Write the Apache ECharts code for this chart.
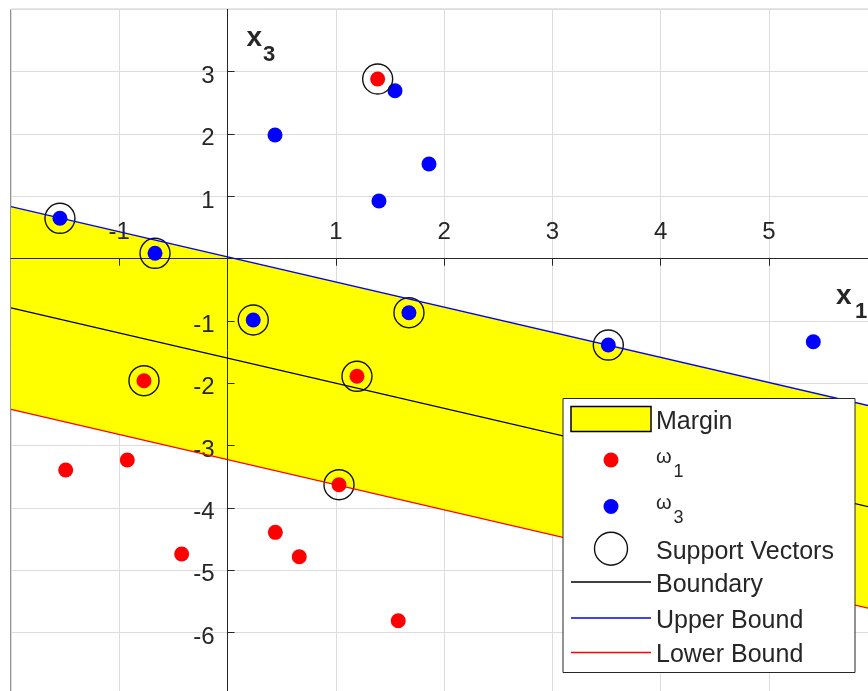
<!DOCTYPE html>
<html>
<head>
<meta charset="utf-8">
<script src="https://cdn.jsdelivr.net/npm/echarts@6/dist/echarts.min.js"></script>
<style>
  html, body { margin: 0; padding: 0; background: #fff; }
  #chart { width: 868px; height: 691px; }
</style>
</head>
<body>
<div id="chart"></div>
<script>
// Class ω1 samples (x1, x3)
const w1X = [1.386, -0.772, 1.195, 1.029, -1.495, -0.926, -0.424, 0.441, 0.662, 1.576];
const w1Y = [2.883, -1.957, -1.887, -3.626, -3.390, -3.230, -4.738, -4.390, -4.781, -5.808];
// Class ω3 samples (x1, x3)
const w3X = [-1.548, -0.670, 0.438, 1.546, 1.860, 1.398, 0.237, 1.675, 3.516, 5.409];
const w3Y = [0.648, 0.087, 1.985, 2.695, 1.519, 0.926, -0.983, -0.866, -1.385, -1.332];
// Which samples are support vectors (indices into the class arrays)
const w1Support = [0, 1, 2, 3];
const w3Support = [0, 1, 6, 7, 8];
// Decision boundary and margin bounds, given at the two ends of the x1 range
const lineX = [-2, 6];
const boundaryY = [-0.789, -4.013];
const upperY = [0.834, -2.390];
const lowerY = [-2.416, -5.640];
// Axis ranges and tick step
const xRange = [-2, 6];
const yRange = [-7, 4];
const tickStep = 1;

const FONT = 'Liberation Sans, Arial, Helvetica, sans-serif';
const INK = '#262626';

const pairs = (xs, ys) => xs.map((x, i) => [x, ys[i]]);
const pick = (xs, ys, idx) => idx.map(i => [xs[i], ys[i]]);
const supportPts = pick(w1X, w1Y, w1Support).concat(pick(w3X, w3Y, w3Support));

// Plot area (the frame runs past the right and bottom edges of the canvas)
const W = 868, H = 691;
const GRID = { left: 11, right: -9.3, top: 9.4, bottom: -4 };
const plotW = W - GRID.left - GRID.right;
const plotH = H - GRID.top - GRID.bottom;
// Distance from the frame edges to the origin lines, used to set tick labels beside the crossing axes
const zeroFromLeft = plotW * (0 - xRange[0]) / (xRange[1] - xRange[0]);
const zeroFromBottom = plotH * (0 - yRange[0]) / (yRange[1] - yRange[0]);

const chart = echarts.init(document.getElementById('chart'), null, { renderer: 'canvas' });

// Base axes only carry the light grid lines (drawn under the margin patch)
const gridAxisX = {
  type: 'value', min: xRange[0], max: xRange[1], interval: tickStep, z: 0,
  axisLine: { show: false }, axisTick: { show: false }, axisLabel: { show: false },
  splitLine: { show: true, lineStyle: { color: '#dcdcdc', width: 1 } }
};
const gridAxisY = {
  type: 'value', min: yRange[0], max: yRange[1], interval: tickStep, z: 0,
  axisLine: { show: false }, axisTick: { show: false }, axisLabel: { show: false },
  splitLine: { show: true, lineStyle: { color: '#dcdcdc', width: 1 } }
};
// Origin-crossing axes with ticks and labels, drawn over the margin patch
const hideZero = v => (v === 0 ? '' : String(v));
const mainAxisX = {
  type: 'value', min: xRange[0], max: xRange[1], interval: tickStep, position: 'bottom', z: 3,
  axisLine: { show: true, onZero: true, lineStyle: { color: INK, width: 1 } },
  axisTick: { show: true, inside: false, length: 7, lineStyle: { color: INK, width: 1 } },
  axisLabel: { inside: true, margin: 14 + zeroFromBottom, showMinLabel: false, showMaxLabel: false,
    formatter: hideZero, fontSize: 24, fontFamily: FONT, color: INK },
  splitLine: { show: false }
};
const mainAxisY = {
  type: 'value', min: yRange[0], max: yRange[1], interval: tickStep, position: 'left', z: 3,
  axisLine: { show: true, onZero: true, lineStyle: { color: INK, width: 1 } },
  axisTick: { show: true, inside: true, length: 7, lineStyle: { color: INK, width: 1 } },
  axisLabel: { inside: false, margin: 13 - zeroFromLeft, showMinLabel: false, showMaxLabel: false,
    formatter: v => (v === 0 ? '' : '{v|' + v + '}'), fontSize: 24, fontFamily: FONT, color: INK,
    rich: { v: { fontSize: 24, fontFamily: FONT, color: INK, lineHeight: 24, padding: [9, 0, 0, 0] } } },
  splitLine: { show: false }
};

// Legend: one component per entry so each row sits at its own height
const LEG_LEFT = 571, LEG_W = 80;
const legendText = {
  fontSize: 25, fontFamily: FONT, color: INK,
  rich: {
    t: { fontSize: 25, fontFamily: FONT, color: INK, lineHeight: 25, padding: [6, 0, 0, 0] },
    w: { fontSize: 20, fontFamily: FONT, color: INK, lineHeight: 20, padding: [9, 0, 15, 0] },
    s: { fontSize: 18, fontFamily: FONT, color: INK, lineHeight: 18, padding: [25, 0, 1, 2] }
  }
};
// iconW: drawn width of the icon; the row is shifted so the icon stays centred in its slot
function legendRow(item, centerY, iconW, iconH, textH, formatter) {
  return {
    data: [item], left: LEG_LEFT + (LEG_W - iconW) / 2, top: centerY - Math.max(iconH, textH) / 2,
    itemWidth: LEG_W, itemHeight: iconH, padding: 0, selectedMode: false, z: 60,
    textStyle: legendText, formatter: formatter
  };
}
const plainFmt = name => '{t|' + name + '}';
const omegaFmt = name => '{w|ω}{s|' + name.slice(1) + '}';
const legends = [
  legendRow({ name: 'Margin', icon: 'rect', itemStyle: { color: '#ffff00', borderColor: '#000', borderWidth: 1.5 } }, 419, 81.5, 25, 31, plainFmt),
  legendRow({ name: 'ω1', icon: 'circle', itemStyle: { color: '#ff0000', borderWidth: 0 } }, 460, 15, 15, 44, omegaFmt),
  legendRow({ name: 'ω3', icon: 'circle', itemStyle: { color: '#0000ff', borderWidth: 0 } }, 506.5, 15, 15, 44, omegaFmt),
  legendRow({ name: 'Support Vectors', icon: 'circle', itemStyle: { color: 'rgba(0,0,0,0)', borderColor: '#111', borderWidth: 1.4 } }, 548, 34.4, 33, 31, plainFmt),
  legendRow({ name: 'Boundary', icon: 'rect', itemStyle: { color: '#000', borderWidth: 0 } }, 582, 80, 1.4, 31, plainFmt),
  legendRow({ name: 'Upper Bound', icon: 'rect', itemStyle: { color: '#0000ff', borderWidth: 0 } }, 618, 80, 1.4, 31, plainFmt),
  legendRow({ name: 'Lower Bound', icon: 'rect', itemStyle: { color: '#ff0000', borderWidth: 0 } }, 652.5, 80, 1.4, 31, plainFmt)
];

const option = {
  animation: false,
  backgroundColor: '#fff',
  grid: { left: GRID.left, right: GRID.right, top: GRID.top, bottom: GRID.bottom,
    outerBoundsMode: 'none', containLabel: false, show: true, borderColor: INK, borderWidth: 1 },
  xAxis: [gridAxisX, mainAxisX],
  yAxis: [gridAxisY, mainAxisY],
  legend: legends,
  series: [
    {
      name: 'Margin', type: 'custom', z: 1,
      itemStyle: { color: '#ffff00' },
      data: [[lineX[0], upperY[0], lineX[1], upperY[1], lowerY[1], lowerY[0]]],
      encode: { x: [0, 2], y: [1, 3, 4, 5] },
      renderItem: (params, api) => {
        const pts = [
          [api.value(0), api.value(1)],
          [api.value(2), api.value(3)],
          [api.value(2), api.value(4)],
          [api.value(0), api.value(5)]
        ].map(p => api.coord(p));
        return { type: 'polygon', shape: { points: pts }, style: { fill: '#ffff00', stroke: null } };
      }
    },
    {
      name: 'ω1', type: 'scatter', z: 5, symbol: 'circle', symbolSize: 15,
      itemStyle: { color: '#ff0000', opacity: 1 },
      data: pairs(w1X, w1Y)
    },
    {
      name: 'ω3', type: 'scatter', z: 5, symbol: 'circle', symbolSize: 15,
      itemStyle: { color: '#0000ff', opacity: 1 },
      data: pairs(w3X, w3Y)
    },
    {
      name: 'Support Vectors', type: 'scatter', z: 6, symbol: 'circle', symbolSize: 30,
      itemStyle: { color: 'rgba(0,0,0,0)', borderColor: '#111', borderWidth: 1.4, opacity: 1 },
      data: supportPts
    },
    {
      name: 'Boundary', type: 'line', z: 7, showSymbol: false, symbol: 'none',
      lineStyle: { color: '#000', width: 1.3 }, itemStyle: { color: '#000' },
      data: pairs(lineX, boundaryY)
    },
    {
      name: 'Upper Bound', type: 'line', z: 7, showSymbol: false, symbol: 'none',
      lineStyle: { color: '#0000ff', width: 1.3 }, itemStyle: { color: '#0000ff' },
      data: pairs(lineX, upperY)
    },
    {
      name: 'Lower Bound', type: 'line', z: 7, showSymbol: false, symbol: 'none',
      lineStyle: { color: '#ff0000', width: 1.3 }, itemStyle: { color: '#ff0000' },
      data: pairs(lineX, lowerY)
    }
  ],
  graphic: [
    // legend frame
    { type: 'rect', z: 50, shape: { x: 563, y: 398.5, width: 292, height: 274 },
      style: { fill: '#fff', stroke: INK, lineWidth: 1 } },
    // axis names x3 and x1
    { type: 'text', z: 40, x: 246.5, y: 38.3,
      style: { text: 'x', font: 'bold 28px ' + FONT, fill: INK, align: 'left', verticalAlign: 'middle' } },
    { type: 'text', z: 40, x: 263, y: 55.4,
      style: { text: '3', font: 'bold 22px ' + FONT, fill: INK, align: 'left', verticalAlign: 'middle' } },
    { type: 'text', z: 40, x: 836, y: 296.3,
      style: { text: 'x', font: 'bold 28px ' + FONT, fill: INK, align: 'left', verticalAlign: 'middle' } },
    { type: 'text', z: 40, x: 855, y: 312.4,
      style: { text: '1', font: 'bold 22px ' + FONT, fill: INK, align: 'left', verticalAlign: 'middle' } }
  ]
};

chart.setOption(option);
</script>
</body>
</html>
